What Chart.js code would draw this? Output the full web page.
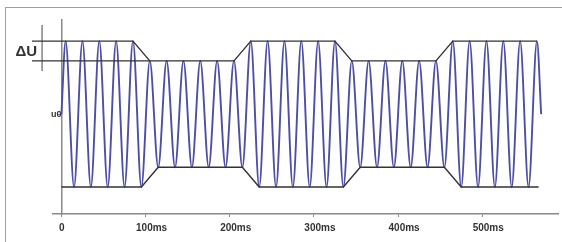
<!DOCTYPE html>
<html><head><meta charset="utf-8">
<script src="https://cdn.jsdelivr.net/npm/chart.js@4"></script>
<style>
html,body{margin:0;padding:0;background:#fff;}
#wrap{position:relative;width:562px;height:242px;overflow:hidden;}
#frame{position:absolute;left:5px;top:7px;width:600px;height:300px;border-left:1px solid #a0a0a0;border-top:1px solid #a0a0a0;}
canvas{position:absolute;left:0;top:0;}
</style></head><body>
<div id="wrap"><div id="frame"></div><canvas id="c" width="562" height="242"></canvas></div>
<script>
// time in ms, voltage relative to u0 (peak of full amplitude = 1)
const waveTimes = [0,5,15,25,35,45,55,65,75,85,95,
  105,115,125,135,145,155,165,175,185,195,205,215,
  225,235,245,255,265,275,285,295,305,315,325,335,
  345,355,365,375,385,395,405,415,425,435,445,455,
  465,475,485,495,505,515,525,535,545,555,565,570];
const waveValues = [0,1,-1,1,-1,1,-1,1,-1,1,-1,
  0.73,-0.73,0.73,-0.73,0.73,-0.73,0.73,-0.73,0.73,-0.73,0.73,-0.73,
  1,-1,1,-1,1,-1,1,-1,1,-1,1,-1,
  0.73,-0.73,0.73,-0.73,0.73,-0.73,0.73,-0.73,0.73,-0.73,0.73,-0.73,
  1,-1,1,-1,1,-1,1,-1,1,-1,1,0];
const upperEnvTimes = [-35,85,105,205,225,325,345,445,465,565];
const upperEnvValues = [1,1,0.73,0.73,1,1,0.73,0.73,1,1];
const lowerEnvTimes = [0,95,115,215,235,335,355,455,475,567];
const lowerEnvValues = [-1,-1,-0.73,-0.73,-1,-1,-0.73,-0.73,-1,-1];
const refLineTimes = [-35,105];
const refLineValues = [0.73,0.73];
const deltaMarkTimes = [-23,-23];
const deltaMarkValues = [1.22,0.59];
const deltaLabel = 'ΔU';
const xTickValues = [0,100,200,300,400,500];
const xTickLabels = ['0    ','100ms','200ms','300ms','400ms','500ms'];
const yTickValues = [0];
const yTickLabels = ['u0'];

const pts = (xs, ys) => xs.map((x, i) => ({x, y: ys[i]}));

const deltaPlugin = {
  id: 'deltaText',
  afterDatasetsDraw(chart) {
    const {ctx, scales} = chart;
    const x = scales.x.getPixelForValue(deltaMarkTimes[0]) - 5;
    const y = scales.y.getPixelForValue((upperEnvValues[0] + refLineValues[0]) / 2);
    ctx.save();
    ctx.font = 'bold 15px "Liberation Sans", Arial, sans-serif';
    ctx.fillStyle = '#333';
    ctx.textAlign = 'right';
    ctx.textBaseline = 'middle';
    ctx.fillText(deltaLabel, x, y + 1);
    ctx.restore();
  }
};

const envStyle = {borderColor: '#333', borderWidth: 1.4, pointRadius: 0, fill: false, clip: false, tension: 0};

new Chart(document.getElementById('c'), {
  type: 'line',
  data: {
    datasets: [
      Object.assign({data: pts(upperEnvTimes, upperEnvValues)}, envStyle),
      Object.assign({data: pts(lowerEnvTimes, lowerEnvValues)}, envStyle),
      Object.assign({data: pts(refLineTimes, refLineValues)}, envStyle),
      Object.assign({data: pts(deltaMarkTimes, deltaMarkValues)}, envStyle, {borderColor: '#555', borderWidth: 1.1}),
      {data: pts(waveTimes, waveValues), borderColor: '#4e4ea6', borderWidth: 1.9, pointRadius: 0, cubicInterpolationMode: 'monotone', fill: false}
    ]
  },
  options: {
    responsive: false,
    animation: false,
    events: [],
    layout: {padding: {left: 53, right: 4, top: 20, bottom: 0}},
    plugins: {legend: {display: false}, tooltip: {enabled: false}},
    scales: {
      x: {
        type: 'linear', min: -10, max: 590,
        grid: {display: true, drawOnChartArea: false, tickLength: 3, color: '#888'},
        border: {color: '#8a8a8a', width: 1.5},
        afterBuildTicks: s => { s.ticks = xTickValues.map(v => ({value: v})); },
        afterFit: s => { s.height = 28; },
        ticks: {
          callback: (v, i) => xTickLabels[i],
          font: {family: '"Liberation Sans", Arial, sans-serif', size: 10, weight: 'bold'},
          color: '#333', maxRotation: 0, autoSkip: false, labelOffset: 6, padding: 5
        }
      },
      y: {
        type: 'linear', min: -1.37, max: 1.29, position: {x: 0},
        grid: {display: true, drawOnChartArea: false, tickLength: 4, color: '#777'},
        border: {color: '#8a8a8a', width: 1.5},
        afterBuildTicks: s => { s.ticks = yTickValues.map(v => ({value: v})); },
        ticks: {
          callback: (v, i) => yTickLabels[i],
          font: {family: '"Liberation Sans", Arial, sans-serif', size: 9, weight: 'bold'},
          color: '#333', padding: 1
        }
      }
    }
  },
  plugins: [deltaPlugin]
});
</script>
</body></html>
